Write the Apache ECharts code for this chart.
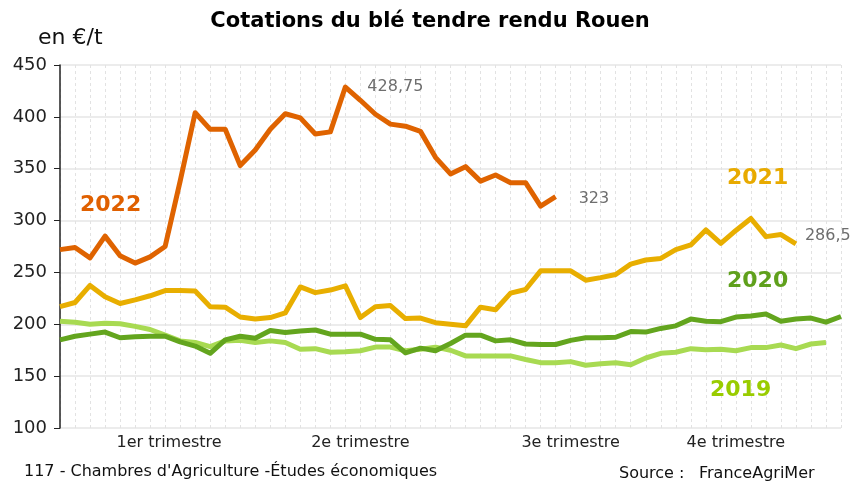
<!DOCTYPE html>
<html>
<head>
<meta charset="utf-8">
<script src="https://cdn.jsdelivr.net/npm/echarts@6/dist/echarts.min.js"></script>
<style>
html,body{margin:0;padding:0;background:#fff;}
#chart{width:860px;height:485px;}
</style>
</head>
<body>
<div id="chart"></div>
<script>
// ---- data ----
const weeks = Array.from({length: 53}, (_, i) => 'S' + (i + 1));
const tickLabels = ['1er trimestre', '2e trimestre', '3e trimestre', '4e trimestre'];
const tickWeekIndex = [7, 20, 34, 45];

const y2022 = [272, 274, 264, 285, 266, 259, 265, 275, 338, 404, 388, 388, 353, 368, 388, 403, 399, 383.5, 385.5, 428.75, 416, 402.5, 393, 391, 386, 361, 345, 352, 338, 344, 336.5, 336.5, 314, 323];
const y2021 = [217, 221, 237.5, 226.5, 220, 223.5, 227.5, 232.5, 232.5, 232, 217, 216.5, 207, 205, 206.5, 211, 236, 230.5, 233, 237, 206.5, 217, 218, 205.5, 206, 201.5, 200, 198.5, 216.5, 214, 230, 233.5, 251.5, 251.5, 251.5, 242.5, 245, 248, 258, 262, 263.5, 272, 276.5, 291, 278, 290.5, 302, 284.5, 286.5, 277.5];
const y2020 = [185, 188.5, 190.5, 192.5, 187, 188, 188.5, 188.5, 183, 179, 172, 185, 188.5, 186.5, 194, 192, 193.5, 194.5, 190.5, 190.5, 190.5, 185.5, 185, 172.5, 177, 174.5, 181.5, 189.5, 189.5, 184, 185, 181, 180.5, 180.5, 184.5, 187, 187, 187.5, 193, 192.5, 196, 198.5, 205, 203, 202.5, 207, 208, 210, 203, 205, 206, 202, 207.5];
const y2019 = [203, 202, 200, 201, 200.5, 198, 195, 189.5, 184, 182.5, 178.5, 184, 184.5, 182.5, 184, 182.5, 176, 176.5, 173, 173.5, 174.5, 178, 178, 174.5, 176, 178, 175, 169.5, 169.5, 169.5, 169.5, 166, 163, 163, 164, 160.5, 162, 163, 161, 167.5, 172, 173, 176.5, 175.5, 176, 174.5, 177.5, 177.5, 180, 176.5, 181, 182.5];

// annotated values
const peak2022Index = 19, peak2022Label = '428,75';
const last2022Index = 33, last2022Label = '323';
const ann2021Index = 48, ann2021Label = '286,5';

const FONT = 'DejaVu Sans';
const C2022 = '#DF6300', C2021 = '#E8AE00', C2020 = '#63A51E', C2019 = '#A8DA52';

const labelMap = {};
tickWeekIndex.forEach((w, k) => { labelMap[w] = tickLabels[k]; });

function annot(arr, idx, text, dist, offset) {
  return {
    coord: [idx, arr[idx]], value: arr[idx],
    symbol: 'circle', symbolSize: 0,
    label: {show: true, formatter: text, position: 'right', distance: dist, offset: offset,
            color: '#6E6E6E', fontSize: 16, fontFamily: FONT}
  };
}

const lineSeries = (name, data, color, marks) => ({
  name, type: 'line', data, showSymbol: false, symbol: 'none', smooth: false,
  lineStyle: {color, width: 5, join: 'round'}, itemStyle: {color},
  emphasis: {disabled: true}, animation: false,
  markPoint: marks ? {symbol: 'circle', symbolSize: 0, silent: true, animation: false, data: marks} : undefined
});

const txt = (text, left, top, size, color, weight) => ({
  text, left, top, padding: 0,
  textStyle: {fontFamily: FONT, fontSize: size, fontWeight: weight || 'normal', color}
});

const chart = echarts.init(document.getElementById('chart'), null, {renderer: 'canvas'});
chart.setOption({
  backgroundColor: '#ffffff',
  animation: false,
  title: [
    {text: 'Cotations du blé tendre rendu Rouen', left: 'center', top: 6,
     textStyle: {fontFamily: FONT, fontSize: 21, fontWeight: 'bold', color: '#000'}},
    txt('en €/t', 38, 27, 22, '#111'),
    txt('2022', 80, 194, 22, '#E06000', 'bold'),
    txt('2021', 727, 167, 22, '#E8AA00', 'bold'),
    txt('2020', 727, 270, 22, '#5FA01C', 'bold'),
    txt('2019', 710, 379, 22, '#99CC00', 'bold'),
    txt("117 - Chambres d'Agriculture -Études économiques", 24, 464, 16, '#111'),
    txt('Source :', 619, 466, 16, '#111'),
    txt('FranceAgriMer', 699, 466, 16, '#111')
  ],
  grid: {left: 60, right: 19, top: 65, bottom: 57},
  xAxis: {
    type: 'category', data: weeks, boundaryGap: false,
    axisLine: {show: false}, axisTick: {show: false},
    axisLabel: {
      interval: 0, margin: 7, color: '#222', fontFamily: FONT, fontSize: 16,
      formatter: (v, i) => labelMap[i] ? (i === tickWeekIndex[0] ? '{a|' + labelMap[i] + '}' : labelMap[i]) : '',
      rich: {a: {fontFamily: FONT, fontSize: 16, color: '#222', padding: [0, 0, 0, 8]}}
    },
    splitLine: {show: true, lineStyle: {color: '#E2E2E2', type: [3, 3], width: 1}}
  },
  yAxis: {
    type: 'value', min: 100, max: 450, interval: 50,
    axisLine: {show: true, lineStyle: {color: '#222', width: 1.5}},
    axisTick: {show: true, length: 6, lineStyle: {color: '#222'}},
    axisLabel: {color: '#222', fontFamily: FONT, fontSize: 18, margin: 13},
    splitLine: {show: true, lineStyle: {color: '#E6E6E6', width: 1.5}}
  },
  series: [
    lineSeries('2019', y2019, C2019),
    lineSeries('2020', y2020, C2020),
    lineSeries('2021', y2021, C2021, [annot(y2021, ann2021Index, ann2021Label, 24, [0, 1])]),
    lineSeries('2022', y2022, C2022, [
      annot(y2022, peak2022Index, peak2022Label, 22, [0, 0]),
      annot(y2022, last2022Index, last2022Label, 23, [0, 2])
    ])
  ]
});
</script>
</body>
</html>
